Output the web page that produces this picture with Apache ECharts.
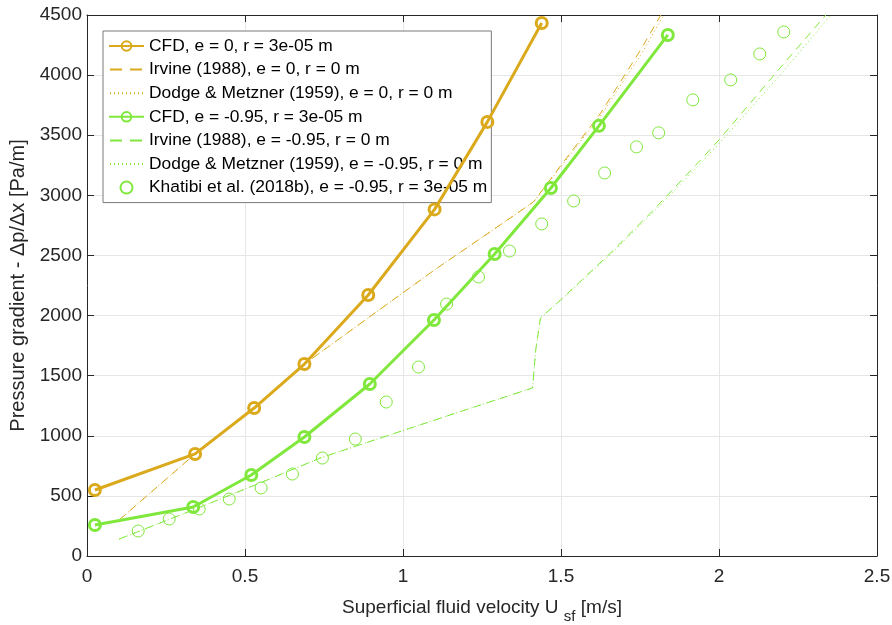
<!DOCTYPE html>
<html>
<head>
<meta charset="utf-8">
<script src="https://cdn.jsdelivr.net/npm/echarts@6/dist/echarts.min.js"></script>
<style>
  html, body { margin: 0; padding: 0; background: #fff; }
  #chart { width: 892px; height: 625px; }
</style>
</head>
<body>
<div id="chart"></div>
<script>
// CFD, e = 0
const cfdE0 = [[0.025, 549], [0.342, 849], [0.529, 1231], [0.688, 1597], [0.89, 2171], [1.1, 2883], [1.267, 3611], [1.439, 4434]];
// Irvine (1988), e = 0
const irvineE0 = [[0.102, 300], [0.342, 849], [0.529, 1231], [0.688, 1597], [0.9, 2000], [1.1, 2380], [1.3, 2740], [1.413, 2945],
  [1.5, 3250], [1.626, 3686], [1.752, 4210], [1.816, 4500]];
// Dodge & Metzner (1959), e = 0
const dodgeE0 = [[0.102, 300], [0.342, 849], [0.529, 1231], [0.688, 1597], [0.9, 2000], [1.1, 2380], [1.3, 2740], [1.413, 2945],
  [1.5, 3240], [1.63, 3680], [1.76, 4200], [1.825, 4500]];
// CFD, e = -0.95
const cfdE95 = [[0.025, 258], [0.336, 408], [0.52, 674], [0.688, 990], [0.895, 1431], [1.098, 1963], [1.29, 2512], [1.468, 3061], [1.62, 3578], [1.838, 4334]];
// Irvine (1988), e = -0.95
const irvineE95 = [[0.102, 141], [0.336, 383], [0.55, 610], [0.738, 815], [0.928, 981], [1.18, 1200], [1.41, 1398], [1.42, 1714], [1.435, 1980],
  [1.499, 2130], [1.657, 2521], [1.793, 2878], [1.936, 3278], [2.0, 3461], [2.196, 4068], [2.338, 4500]];
// Dodge & Metzner (1959), e = -0.95
const dodgeE95 = [[0.102, 141], [0.336, 383], [0.55, 610], [0.738, 815], [0.928, 981], [1.18, 1200], [1.41, 1398], [1.42, 1714], [1.435, 1980],
  [1.499, 2128], [1.657, 2510], [1.793, 2862], [1.936, 3250], [2.0, 3430], [2.2, 4020], [2.354, 4500]];
// Khatibi et al. (2018b), e = -0.95
const khatibi = [[0.162, 208], [0.26, 308], [0.355, 391], [0.45, 474], [0.551, 566], [0.65, 682], [0.745, 815], [0.849, 973],
  [0.947, 1281], [1.049, 1572], [1.138, 2096], [1.239, 2321], [1.337, 2537], [1.439, 2762], [1.54, 2953], [1.638, 3186],
  [1.739, 3403], [1.809, 3520], [1.917, 3794], [2.037, 3960], [2.129, 4176], [2.205, 4359]];

const seriesNames = [
    "CFD, e = 0, r = 3e-05 m",
    "Irvine (1988), e = 0, r = 0 m",
    "Dodge & Metzner (1959), e = 0, r = 0 m",
    "CFD, e = -0.95, r = 3e-05 m",
    "Irvine (1988), e = -0.95, r = 0 m",
    "Dodge & Metzner (1959), e = -0.95, r = 0 m",
    "Khatibi et al. (2018b), e = -0.95, r = 3e-05 m"
];

const gold = "#DBA91C";
const green = "#80E83C";
const hidden = "rgba(255,255,255,0)";
const font = "Liberation Sans, Arial, sans-serif";
const axisColor = "#262626";

let chart = echarts.init(document.getElementById("chart"));

let baseX = {
    type: "value",
    min: 0,
    max: 2.5,
    interval: 0.5,
    axisLine: { show: true, onZero: false, lineStyle: { color: axisColor, width: 1 } },
    axisTick: { show: true, inside: true, length: 7, lineStyle: { color: axisColor } },
    splitLine: { show: false }
};
let baseY = {
    type: "value",
    min: 0,
    max: 4500,
    interval: 500,
    axisLine: { show: true, onZero: false, lineStyle: { color: axisColor, width: 1 } },
    axisTick: { show: true, inside: true, length: 7, lineStyle: { color: axisColor } },
    splitLine: { show: false }
};

// thin reference curves: no markers, and no marker in the legend either
function refLine(name, data, color, dash) {
    return {
        name: name,
        type: "line",
        data: data,
        symbol: "none",
        lineStyle: { color: color, width: 1, type: dash },
        itemStyle: { color: hidden, borderColor: hidden, borderWidth: 0 }
    };
}

let option = {
    animation: false,
    backgroundColor: "#fff",
    textStyle: { fontFamily: font },
    grid: { left: 87, right: 15, top: 15, bottom: 69, containLabel: false, outerBoundsMode: "none" },
    legend: {
        orient: "vertical",
        left: 103,
        top: 31,
        itemWidth: 35,
        itemHeight: 12,
        itemGap: 3.6,
        padding: [5, 4, 5, 5],
        backgroundColor: "#fff",
        borderColor: "#7a7a7a",
        borderWidth: 1,
        textStyle: { fontFamily: font, fontSize: 17.4, color: "#000", lineHeight: 20 },
        data: [
            { name: seriesNames[0] },
            { name: seriesNames[1], lineStyle: { type: [12, 8], dashOffset: -1 } },
            { name: seriesNames[2] },
            { name: seriesNames[3] },
            { name: seriesNames[4], lineStyle: { type: [12, 8], dashOffset: -1 } },
            { name: seriesNames[5] },
            { name: seriesNames[6] }
        ]
    },
    xAxis: [
        Object.assign({}, baseX, {
            position: "bottom",
            name: "{a|Superficial fluid velocity U }{b|sf}{a| [m/s]}",
            nameLocation: "middle",
            nameGap: 35,
            nameTextStyle: {
                rich: {
                    a: { fontFamily: font, fontSize: 19, color: axisColor },
                    b: { fontFamily: font, fontSize: 15, color: axisColor, padding: [18, 0, 0, 0] }
                }
            },
            axisLabel: { fontFamily: font, fontSize: 19, color: axisColor, margin: 11 },
            splitLine: { show: true, lineStyle: { color: "#e6e6e6", width: 1 } }
        }),
        Object.assign({}, baseX, { position: "top", axisLabel: { show: false } })
    ],
    yAxis: [
        Object.assign({}, baseY, {
            position: "left",
            name: "Pressure gradient - \u0394p/\u0394x [Pa/m]",
            nameLocation: "middle",
            nameGap: 52,
            nameTextStyle: { fontFamily: font, fontSize: 20, color: axisColor },
            axisLabel: {
                fontFamily: font, fontSize: 19, color: axisColor, margin: 5,
                formatter: function(value) { return String(value); }
            },
            splitLine: { show: true, lineStyle: { color: "#e6e6e6", width: 1 } }
        }),
        Object.assign({}, baseY, { position: "right", axisLabel: { show: false } })
    ],
    series: [
        {
            name: seriesNames[0],
            type: "line",
            data: cfdE0,
            symbol: "circle",
            symbolSize: 11,
            lineStyle: { color: gold, width: 3 },
            itemStyle: { color: hidden, borderColor: gold, borderWidth: 3 },
            z: 5
        },
        refLine(seriesNames[1], irvineE0, gold, [8, 6]),
        refLine(seriesNames[2], dodgeE0, gold, [1, 3]),
        {
            name: seriesNames[3],
            type: "line",
            data: cfdE95,
            symbol: "circle",
            symbolSize: 11,
            lineStyle: { color: green, width: 3 },
            itemStyle: { color: hidden, borderColor: green, borderWidth: 3 },
            z: 5
        },
        refLine(seriesNames[4], irvineE95, green, [8, 6]),
        refLine(seriesNames[5], dodgeE95, green, [1, 3]),
        {
            name: seriesNames[6],
            type: "scatter",
            data: khatibi,
            symbol: "circle",
            symbolSize: 12,
            itemStyle: { color: hidden, borderColor: green, borderWidth: 1, opacity: 1 },
            z: 3
        }
    ]
};
chart.setOption(option, true);
</script>
</body>
</html>
